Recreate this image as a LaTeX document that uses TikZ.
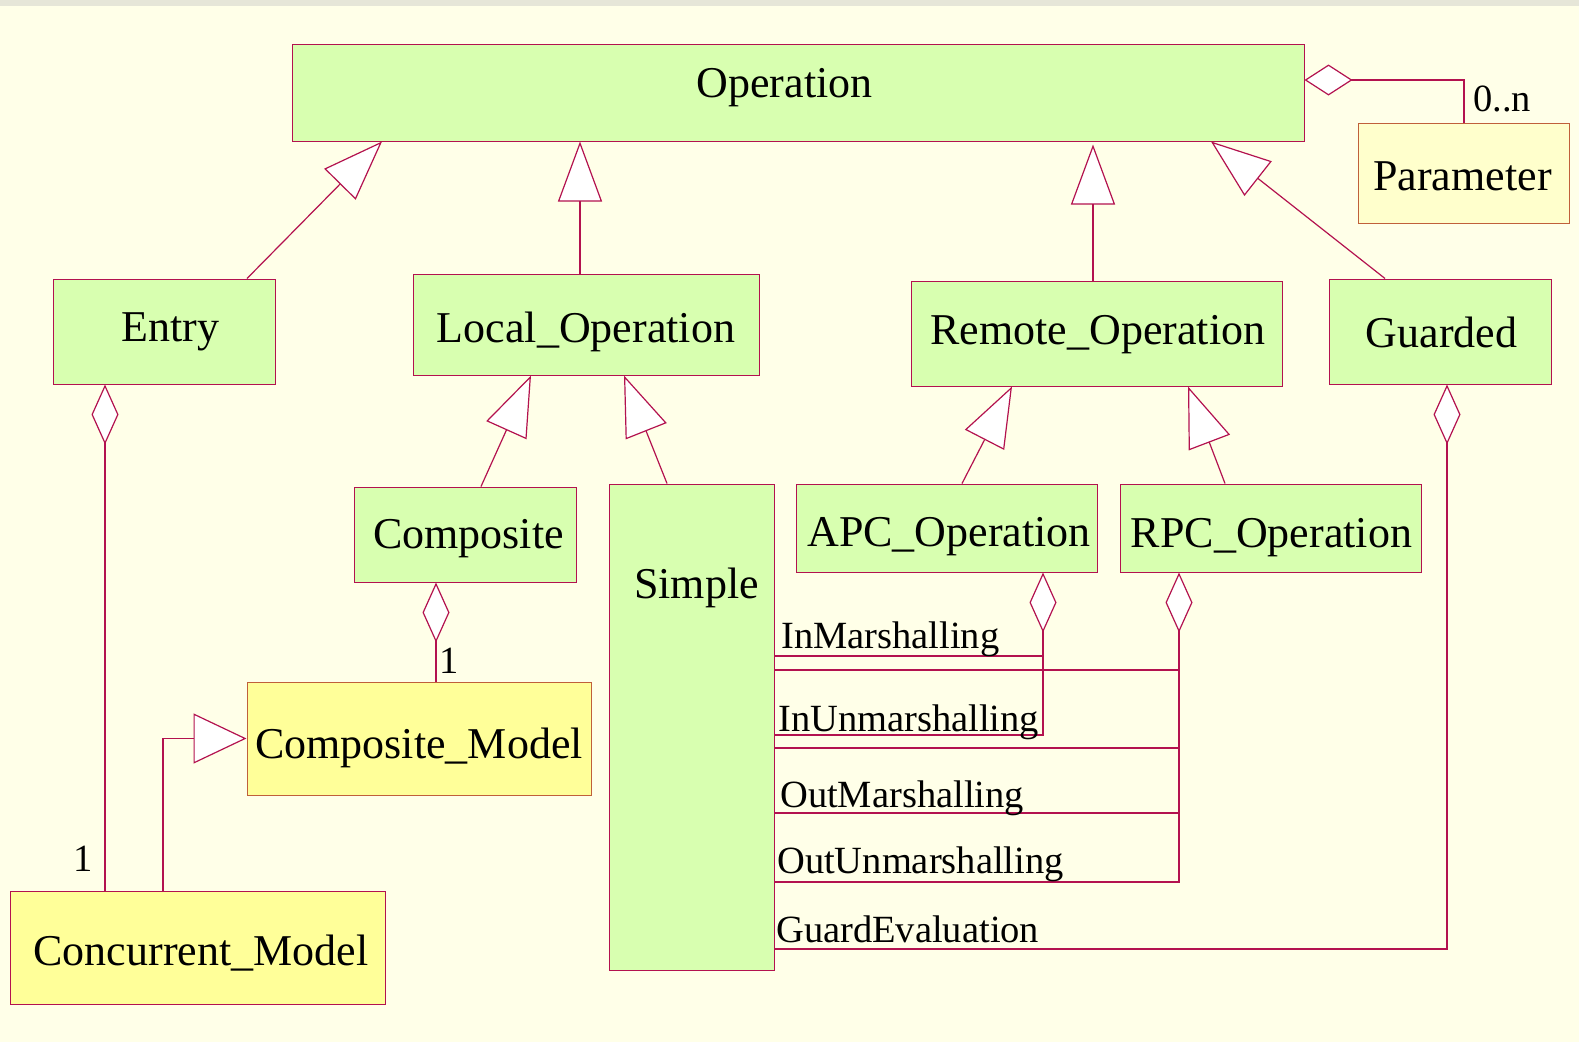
\documentclass[tikz,border=0pt]{standalone}
\usepackage{fontspec}
\setmainfont{Liberation Serif}
\usetikzlibrary{arrows.meta}
\definecolor{bg}{HTML}{FFFFE8}
\definecolor{band}{HTML}{E6E6D8}
\definecolor{clsgreen}{HTML}{D8FFB0}
\definecolor{mdlyellow}{HTML}{FFFF99}
\definecolor{paryellow}{HTML}{FFFFCC}
\definecolor{umlline}{HTML}{B3124F}
\definecolor{brownline}{HTML}{C0603A}
\begin{document}
\begin{tikzpicture}[x=1pt,y=-1pt,
  box/.style={draw=umlline, line width=1pt, inner sep=0pt, anchor=center},
  cls/.style={box, fill=clsgreen},
  mdl/.style={box, fill=mdlyellow},
  % class name set on its baseline, offset from the box centre
  title/.style={inner sep=0pt, anchor=base, font=\fontsize{44}{50}\selectfont},
  gen/.style={draw=umlline, line width=1.2pt,
    -{Triangle[length=60pt, width=44pt, fill=white]}},
  agg/.style={draw=umlline, line width=1.2pt,
    {Diamond[length=60pt, width=27pt, fill=white]}-},
  link/.style={draw=umlline, line width=1.2pt},
  mem/.style={font=\fontsize{38.5}{44}\selectfont, inner sep=0pt, anchor=base west},
]
\useasboundingbox (0,0) rectangle (1579,1042);
\fill[bg] (0,0) rectangle (1579,1042);
\fill[band] (0,0) rectangle (1579,6);

% class boxes
\node[cls, minimum width=1012pt, minimum height=97pt] (operation) at (798,92.5) {};
\node[box, fill=paryellow, draw=brownline, minimum width=211pt, minimum height=100pt] (parameter) at (1463.5,173) {};
\node[cls, minimum width=222pt, minimum height=105pt] (entry) at (164,331.5) {};
\node[cls, minimum width=346pt, minimum height=101pt] (local) at (586,324.5) {};
\node[cls, minimum width=371pt, minimum height=105pt] (remote) at (1096.5,333.5) {};
\node[cls, minimum width=222pt, minimum height=105pt] (guarded) at (1440,331.5) {};
\node[cls, minimum width=222pt, minimum height=95pt] (composite) at (465,534.5) {};
\node[cls, minimum width=165pt, minimum height=486pt] (simple) at (691.5,727) {};
\node[cls, minimum width=301pt, minimum height=88pt] (apc) at (946.5,528) {};
\node[cls, minimum width=301pt, minimum height=88pt] (rpc) at (1270.5,528) {};
\node[mdl, draw=brownline, minimum width=344pt, minimum height=113pt] (compmodel) at (419,738.5) {};
\node[mdl, minimum width=375pt, minimum height=113pt] (concurrent) at (197.5,947.5) {};

% class names
\node[title] (operation-t) at ([xshift=-13.5pt, yshift=-4.5pt]operation.center) {Operation};
\node[title] (parameter-t) at ([xshift=-1pt, yshift=-17pt]parameter.center) {Parameter};
\node[title] (entry-t) at ([xshift=6.5pt, yshift=-9.5pt]entry.center) {Entry};
\node[title] (local-t) at ([yshift=-17.5pt]local.center) {Local\_Operation};
\node[title] (remote-t) at ([xshift=1.5pt, yshift=-10.5pt]remote.center) {Remote\_Operation};
\node[title] (guarded-t) at ([xshift=1.5pt, yshift=-15.5pt]guarded.center) {Guarded};
\node[title] (composite-t) at ([xshift=3.5pt, yshift=-13.5pt]composite.center) {Composite};
\node[title] (simple-t) at ([xshift=5pt, yshift=-115pt]simple.north) {Simple};
\node[title] (apc-t) at ([xshift=2.5pt, yshift=-18pt]apc.center) {APC\_Operation};
\node[title] (rpc-t) at ([xshift=1pt, yshift=-19pt]rpc.center) {RPC\_Operation};
\node[title] (compmodel-t) at ([yshift=-19.5pt]compmodel.center) {Composite\_Model};
\node[title] (concurrent-t) at ([xshift=3.5pt, yshift=-17.5pt]concurrent.center) {Concurrent\_Model};

% generalizations
\draw[gen] (247,0 |- entry.north) -- (382,0 |- operation.south);
\draw[gen] (580,0 |- local.north) -- (580,0 |- operation.south);
\draw[gen, shorten >=3pt] (1093,0 |- remote.north) -- (1093,0 |- operation.south);
\draw[gen] (1385,0 |- guarded.north) -- (1211,0 |- operation.south);
\draw[gen] (481,0 |- composite.north) -- (531,0 |- local.south);
\draw[gen] (667,0 |- simple.north) -- (624,0 |- local.south);
\draw[gen] (962,0 |- apc.north) -- (1012,0 |- remote.south);
\draw[gen] (1225,0 |- rpc.north) -- (1188,0 |- remote.south);
\draw[gen, -{Triangle[length=53pt, width=50pt, fill=white]}]
  (163,0 |- concurrent.north) |- (compmodel.west);

% aggregations
\draw[agg, {Diamond[length=48pt, width=31pt, fill=white]}-]
  (operation.east |- 0,80) -| (1464,0 |- parameter.north);
\node[mem] (pmult) at (1473,111) {0..n};
\draw[agg] (105,0 |- entry.south) -- (105,0 |- concurrent.north);
\node[mem] (emult) at (73,871) {1};
\draw[agg] (436,0 |- composite.south) -- (436,0 |- compmodel.north);
\node[mem] (cmult) at (439,673) {1};

% operation members of Simple
\draw[agg] (1043,0 |- apc.south) -- (1043,735) -- (simple.east |- 0,735);
\draw[link] (simple.east |- 0,656) -- (1043,656);
\draw[agg] (1179,0 |- rpc.south) -- (1179,882) -- (simple.east |- 0,882);
\draw[link] (simple.east |- 0,670) -- (1179,670);
\draw[link] (simple.east |- 0,748) -- (1179,748);
\draw[link] (simple.east |- 0,813) -- (1179,813);
\draw[agg] (1447,0 |- guarded.south) |- (simple.east |- 0,949);

\node[mem] (m1) at (781,648) {InMarshalling};
\node[mem] (m2) at (778,731) {InUnmarshalling};
\node[mem] (m3) at (780,807) {OutMarshalling};
\node[mem] (m4) at (777,873) {OutUnmarshalling};
\node[mem] (m5) at (776,942) {GuardEvaluation};
\end{tikzpicture}
\end{document}
